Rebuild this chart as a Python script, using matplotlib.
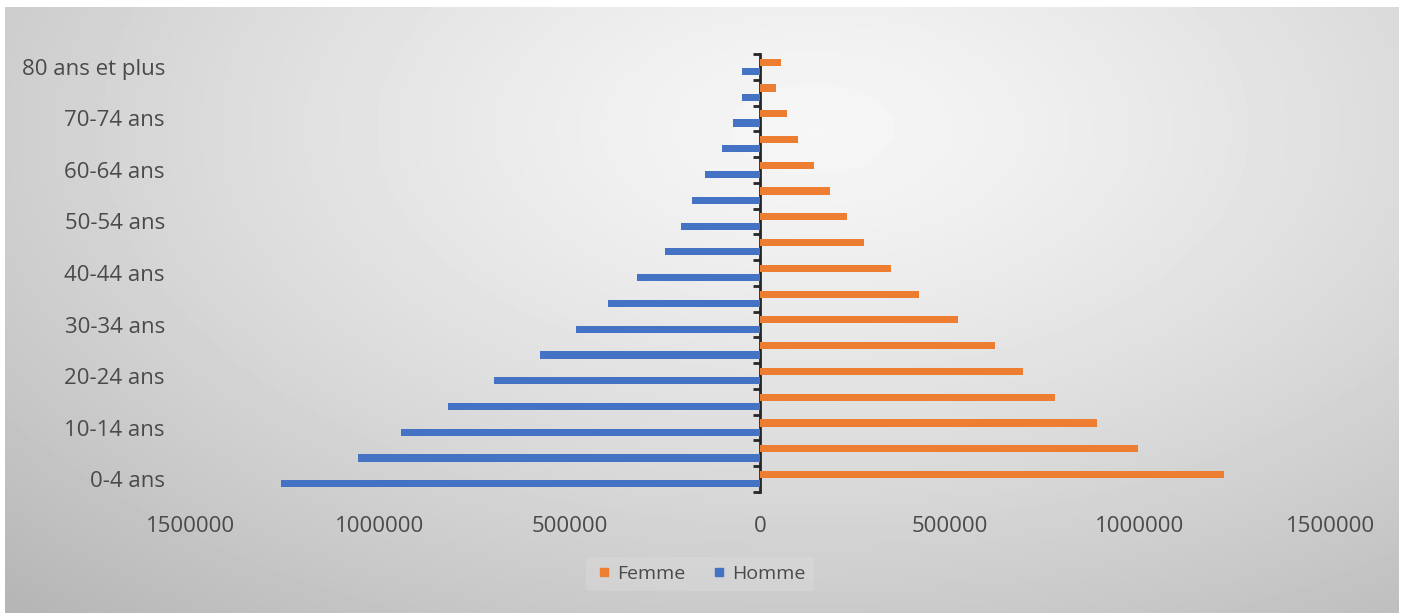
import numpy as np
import matplotlib as mpl
import matplotlib.pyplot as plt
from matplotlib.ticker import FuncFormatter
from matplotlib.lines import Line2D

ages = ['0-4 ans', '5-9 ans', '10-14 ans', '15-19 ans', '20-24 ans', '25-29 ans',
        '30-34 ans', '35-39 ans', '40-44 ans', '45-49 ans', '50-54 ans', '55-59 ans',
        '60-64 ans', '65-69 ans', '70-74 ans', '75-79 ans', '80 ans et plus']
femme = [1221000, 995000, 887000, 776000, 692000, 618000, 521000, 418000, 345000,
         274000, 229000, 184000, 143000, 101000, 72000, 42000, 54000]
homme = [1261000, 1058000, 945000, 821000, 700000, 579000, 484000, 400000, 324000,
         250000, 208000, 179000, 144000, 101000, 71000, 47000, 48000]
xticks = [-1500000, -1000000, -500000, 0, 500000, 1000000, 1500000]

mpl.rcParams['font.family'] = ['Open Sans', 'DejaVu Sans']
text_color = '#4a4a4a'
blue = '#4472C4'
orange = '#ED7D31'

fig = plt.figure(figsize=(14.05, 6.13), dpi=100)
fig.patch.set_facecolor('white')

# Radial grey background
bg = fig.add_axes([5 / 1405, 0, 1394 / 1405, 606 / 613], zorder=0)
gx, gy = np.meshgrid(np.linspace(0, 1, 400), np.linspace(0, 1, 200))
r = np.sqrt(((gx - 0.58) / 0.7) ** 2 + ((gy - 0.2) / 0.9) ** 2)
shade = np.clip(0.965 - 0.2 * r ** 1.3, 0, 1)
bg.imshow(shade, cmap='gray', vmin=0, vmax=1, extent=(0, 1, 0, 1), aspect='auto')
bg.axis('off')

ax = fig.add_axes([190 / 1405, 1 - 492 / 613, 1140 / 1405, 438 / 613], zorder=1)
ax.patch.set_alpha(0)

y = np.arange(len(ages))
ax.barh(y + 0.18, femme, height=0.28, color=orange, label='Femme')
ax.barh(y - 0.18, [-v for v in homme], height=0.28, color=blue, label='Homme')

ax.set_xlim(-1500000, 1500000)
ax.set_ylim(-0.5, len(ages) - 0.5)
for s in ax.spines.values():
    s.set_visible(False)

ax.set_xticks(xticks)
ax.xaxis.set_major_formatter(FuncFormatter(lambda v, p: f'{abs(int(v))}'))
ax.set_yticks(y[::2])
ax.set_yticklabels(ages[::2])
ax.tick_params(axis='both', length=0, labelsize=16, labelcolor=text_color)
ax.tick_params(axis='x', pad=17)
ax.tick_params(axis='y', pad=18)

# central axis with ticks at category boundaries
sec = ax.secondary_yaxis(0.5)
sec.set_alignment('left')
sec.set_yticks(np.arange(len(ages) + 1) - 0.5)
sec.set_yticklabels([])
sec.tick_params(length=5, width=2, color='#262626', direction='out')
sec.spines['left'].set_linewidth(2)
sec.spines['left'].set_color('#262626')

handles = [Line2D([], [], ls='none', marker='s', markersize=6, color=orange),
           Line2D([], [], ls='none', marker='s', markersize=6, color=blue)]
leg = fig.legend(handles, ['Femme', 'Homme'], loc='center', ncol=2,
                 bbox_to_anchor=(700 / 1405, 1 - 574 / 613), frameon=True,
                 fontsize=14, handletextpad=0.2, columnspacing=1.2, handlelength=1)
leg.get_frame().set_facecolor('white')
leg.get_frame().set_alpha(0.12)
leg.get_frame().set_edgecolor('none')
for t in leg.get_texts():
    t.set_color(text_color)

fig.savefig('out.png', dpi=100)
